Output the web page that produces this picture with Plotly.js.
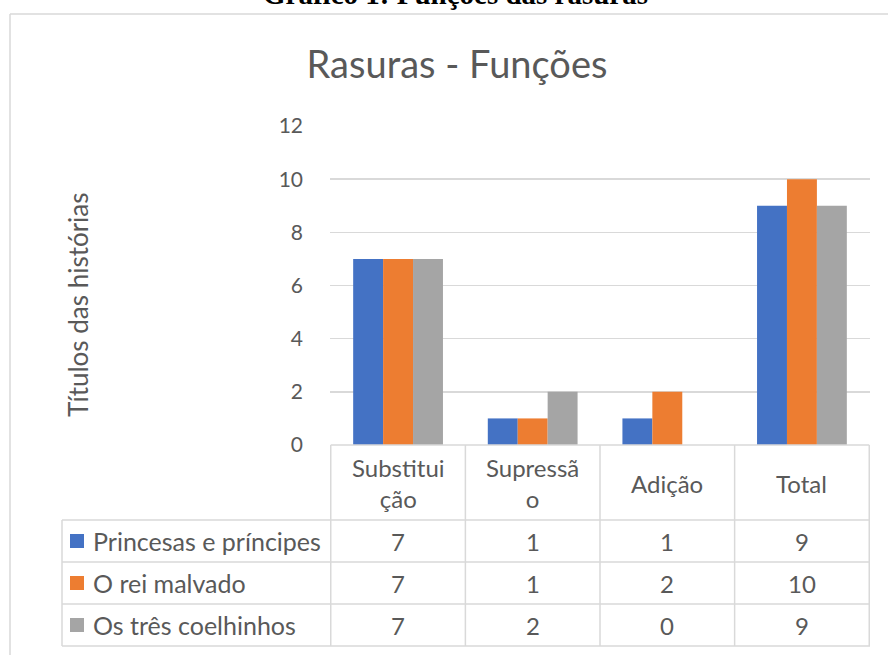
<!DOCTYPE html>
<html>
<head>
<meta charset="utf-8">
<script src="https://cdn.plot.ly/plotly-3.0.1.min.js"></script>
<style>html,body{margin:0;padding:0;background:#fff;}#chart{width:888px;height:655px;}</style>
</head>
<body>
<div id="chart"></div>
<script>
// ---- data ----
const categories = ['Substituição', 'Supressão', 'Adição', 'Total'];
const headerLabels = ['Substitui<br>ção', 'Supressã<br>o', 'Adição', 'Total'];
const seriesNames = ['Princesas e príncipes', 'O rei malvado', 'Os três coelhinhos'];
const princesas = [7, 1, 1, 9];
const reiMalvado = [7, 1, 2, 10];
const coelhinhos = [7, 2, 0, 9];
const seriesValues = [princesas, reiMalvado, coelhinhos];
const seriesColors = ['#4472C4', '#ED7D31', '#A5A5A5'];
const yTicks = [0, 2, 4, 6, 8, 10, 12];
const chartTitle = 'Rasuras - Funções';
const yTitle = 'Títulos das histórias';
const caption = 'Gráfico 1: Funções das rasuras';

// ---- geometry ----
const W = 888, H = 655, L = 330, R = 18, T = 126, B = 210;
const px = x => (x - L) / (W - L - R);
const py = y => (H - B - y) / (H - T - B);
const FONT = 'Lato, "Open Sans", sans-serif';
const TXT = '#595959';
const LINE = '#d9d9d9';
const TABLE_FS = 24;

const traces = seriesNames.map((n, i) => ({
  type: 'bar', name: n, x: categories, y: seriesValues[i],
  marker: {color: seriesColors[i]}, hoverinfo: 'x+y+name'
}));

const shapes = [];
const annotations = [];
const headerTop = 445, headerBot = 520, rowH = 42, tableLeft = 62;
const rowY = seriesNames.map((_, i) => headerBot + rowH * i);
const tableBot = headerBot + rowH * seriesNames.length;

// chart frame (top and left edges)
shapes.push({type: 'line', xref: 'paper', yref: 'paper', x0: px(10), x1: px(W + 5), y0: py(14), y1: py(14), line: {color: LINE, width: 1.5}});
shapes.push({type: 'line', xref: 'paper', yref: 'paper', x0: px(10), x1: px(10), y0: py(14), y1: py(H + 5), line: {color: LINE, width: 1.5}});

// table horizontal lines
shapes.push({type: 'line', xref: 'x', yref: 'paper', x0: -0.5, x1: categories.length - 0.5, y0: py(headerTop), y1: py(headerTop), line: {color: LINE, width: 1.5}});
[headerBot, ...rowY.slice(1), tableBot].forEach(y => {
  shapes.push({type: 'line', xref: 'paper', yref: 'paper', x0: px(tableLeft), x1: 1, y0: py(y), y1: py(y), line: {color: LINE, width: 1.5}});
});
// table vertical lines
for (let i = 0; i <= categories.length; i++) {
  shapes.push({type: 'line', xref: 'x', yref: 'paper', x0: i - 0.5, x1: i - 0.5, y0: py(headerTop), y1: py(tableBot), line: {color: LINE, width: 1.5}});
}
shapes.push({type: 'line', xref: 'paper', yref: 'paper', x0: px(tableLeft), x1: px(tableLeft), y0: py(headerBot), y1: py(tableBot), line: {color: LINE, width: 1.5}});

// header labels
categories.forEach((c, i) => {
  annotations.push({xref: 'x', yref: 'paper', x: c, y: py((headerTop + headerBot) / 2 + 1), text: headerLabels[i],
    showarrow: false, xanchor: 'center', yanchor: 'middle', font: {family: FONT, size: TABLE_FS, color: TXT}});
});
// rows
seriesNames.forEach((n, s) => {
  const yc = rowY[s] + rowH / 2;
  shapes.push({type: 'rect', xref: 'paper', yref: 'paper', x0: px(70), x1: px(84), y0: py(yc - 7), y1: py(yc + 7), fillcolor: seriesColors[s], line: {width: 0}});
  annotations.push({xref: 'paper', yref: 'paper', x: px(91), y: py(yc), text: n, showarrow: false, xanchor: 'left', yanchor: 'middle', font: {family: FONT, size: 25, color: TXT}});
  categories.forEach((c, i) => {
    annotations.push({xref: 'x', yref: 'paper', x: c, y: py(yc), text: String(seriesValues[s][i]), showarrow: false, xanchor: 'center', yanchor: 'middle', font: {family: FONT, size: TABLE_FS, color: TXT}});
  });
});
// y axis title
annotations.push({xref: 'paper', yref: 'paper', x: px(78), y: py(305), text: yTitle, textangle: -90, showarrow: false, xanchor: 'center', yanchor: 'middle', font: {family: FONT, size: 26, color: TXT}});
// cropped caption
annotations.push({xref: 'paper', yref: 'paper', x: px(455), y: py(-6), text: '<b>' + caption + '</b>', showarrow: false, xanchor: 'center', yanchor: 'middle', font: {family: '"Liberation Serif", "DejaVu Serif", serif', size: 29, color: '#000'}});

const layout = {
  width: W, height: H,
  margin: {l: L, r: R, t: T, b: B, pad: 0},
  paper_bgcolor: '#fff', plot_bgcolor: '#fff',
  showlegend: false,
  barmode: 'group', bargap: 0.333, bargroupgap: 0,
  title: {text: chartTitle, x: 457 / W, xref: 'container', xanchor: 'center', y: 1 - 65 / H, yref: 'container', yanchor: 'middle', font: {family: FONT, size: 38, color: TXT}},
  xaxis: {type: 'category', showticklabels: false, showgrid: false, zeroline: false, showline: false, ticks: '', fixedrange: true},
  yaxis: {range: [0, 12], tickvals: yTicks, ticktext: yTicks.map(String), showgrid: true, gridcolor: LINE, gridwidth: 1.5, zeroline: false, showline: false, ticks: '', ticklabelstandoff: 26, tickfont: {family: FONT, size: 21, color: TXT}, fixedrange: true},
  shapes: shapes,
  annotations: annotations
};

Plotly.newPlot('chart', traces, layout, {displayModeBar: false, staticPlot: true});
</script>
</body>
</html>
